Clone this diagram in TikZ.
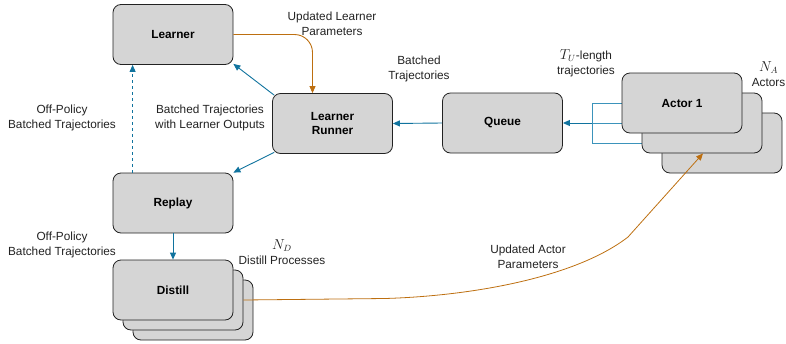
\documentclass[tikz,border=0pt]{standalone}
\usepackage{fontspec}
\setmainfont{Liberation Sans}
\usetikzlibrary{arrows.meta,calc,backgrounds}
\definecolor{boxfill}{HTML}{D5D5D5}
\definecolor{boxdraw}{HTML}{222222}
\definecolor{flowblue}{HTML}{10739E}
\definecolor{lineblue}{HTML}{3B93BB}
\definecolor{flowor}{HTML}{BD6F10}
\definecolor{txt}{HTML}{222222}
\tikzset{
  box/.style={draw=boxdraw, fill=boxfill, rounded corners=8pt, line width=0.8pt,
    minimum width=120pt, minimum height=60pt, inner sep=0pt, align=center,
    font=\fontsize{11.8}{13.5}\selectfont\bfseries},
  lbl/.style={align=center, inner sep=0pt, text=txt, font=\fontsize{11.8}{15}\selectfont},
  bluearrow/.style={draw=flowblue, line width=0.9pt, -{Triangle[length=7pt,width=6pt]}},
  orarrow/.style={draw=flowor, line width=0.9pt, -{Triangle[length=7pt,width=6pt]}},
  thinblue/.style={draw=lineblue, line width=0.8pt}
}
\newcommand{\mymathbig}[1]{{\fontsize{13.5}{15}\selectfont$#1$}}
\begin{document}
\begin{tikzpicture}[x=1pt,y=-1pt]
\useasboundingbox (0,0) rectangle (786,343);
% boxes
\node[box] (learner) at (173,34.5) {Learner};
\node[box] (runner) at (332.5,123.5) {Learner\\Runner};
\node[box] (queue) at (502.5,123) {Queue};
\node[box] (actor3) at (722,143) {};
\node[box] (actor2) at (702,123) {};
\node[box] (actor1) at (682,103) {Actor 1};
\node[box] (replay) at (173,203) {Replay};
\node[box] (distill3) at (193,310) {};
\node[box] (distill2) at (183,300) {};
\node[box] (distill1) at (173,290) {Distill};
% actor to queue lines (behind actors)
\coordinate (junc) at (592,123);
\begin{pgfonlayer}{background}
\draw[thinblue] (actor1.west) -| (junc);
\draw[thinblue] (actor3.west) -| (junc);
\draw[thinblue] (actor2.west) -- (junc);
\end{pgfonlayer}
\draw[bluearrow] (junc) -- (queue.east);
% queue to runner
\draw[bluearrow] (queue.west) -- (runner.east);
% runner to learner
\coordinate (rnw) at ($(runner.north west)+(2,2)$);
\coordinate (lse) at ($(learner.south east)+(0,-1)$);
\draw[bluearrow] (rnw) -- (lse);
% runner to replay
\coordinate (rsw) at ($(runner.south west)+(2,-1.5)$);
\coordinate (rne) at ($(replay.north east)+(0,0)$);
\draw[bluearrow] (rsw) -- (rne);
% learner to runner (orange)
\coordinate (rin) at ($(runner.north)+(-20,0)$);
\draw[orarrow, rounded corners=18pt] (learner.east) -| (rin);
% replay to learner dashed
\coordinate (rpn) at ($(replay.north west)+(20,0)$);
\coordinate (lrs) at ($(learner.south west)+(20,0)$);
\draw[bluearrow, dashed, dash pattern=on 3pt off 3pt] (rpn) -- (lrs);
% replay to distill
\draw[bluearrow] (replay.south) -- (distill1.north);
% distill to actors (orange)
\coordinate (a2in) at ($(actor2.south)+(1,0)$);
\draw[orarrow, line width=0.8pt] (distill2.east) -- (385,298.5)
  .. controls (470,296) and (575,278) .. (628,237) -- (a2in);
% labels
\node[lbl] (l1) at (332,24) {Updated Learner\\Parameters};
\node[lbl] (l2) at (419,69) {Batched\\Trajectories};
\node[lbl] (l3) at (586,63) {\mymathbig{T_U}-length\\trajectories};
\node[lbl, anchor=east] (l4) at (785.5,74) {\mymathbig{N_A}\\Actors};
\node[lbl] (l5) at (62,118) {Off-Policy\\Batched Trajectories};
\node[lbl] (l6) at (210,118) {Batched Trajectories\\with Learner Outputs};
\node[lbl] (l7) at (62,244.5) {Off-Policy\\Batched Trajectories};
\node[lbl] (l8) at (282,252) {\mymathbig{N_D}\\Distill Processes};
\node[lbl] (l9) at (528,257) {Updated Actor\\Parameters};
\end{tikzpicture}
\end{document}
